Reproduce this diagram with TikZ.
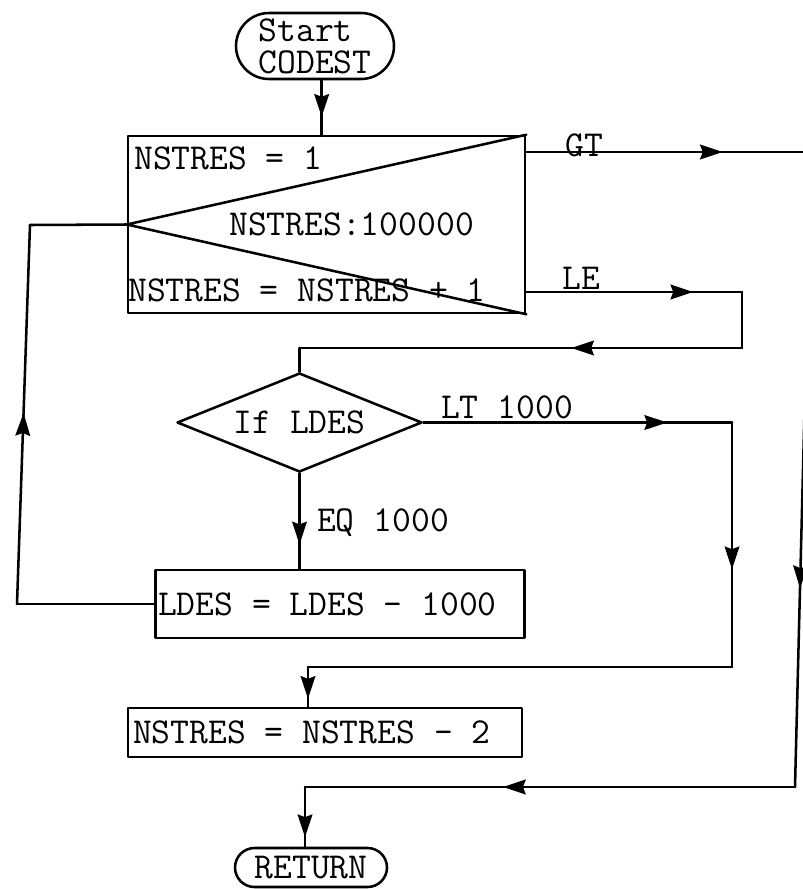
\documentclass[tikz,border=0pt]{standalone}
\usetikzlibrary{shapes.misc,shapes.geometric,decorations.markings,arrows.meta}
\begin{document}
\begin{tikzpicture}[x=0.75pt,y=-0.75pt, line width=1.9pt, line cap=round, line join=round,
  txt/.style={font=\ttfamily\fontsize{27.4pt}{24pt}\selectfont, inner sep=0pt},
  term/.style={txt, draw, rounded rectangle, align=left},
  procbox/.style={txt, draw, rectangle},
  arr/.style={postaction={decorate},decoration={markings,mark=at position #1 with {\arrow{Stealth[length=17pt,width=11pt,inset=2pt]}}}}]
\useasboundingbox (0,0) rectangle (803,889);

% nodes
\node[term, minimum width=118.5pt, minimum height=49.5pt] (start) at (315,46) {Start\\CODEST};
\node[draw, minimum width=297.75pt, minimum height=132.75pt, inner sep=0pt] (loop) at (326.5,224.5) {};
\draw (loop.north east) -- (loop.west) -- (loop.south east);
\node[txt, anchor=west] (t1) at (133,158) {NSTRES = 1};
\node[txt, anchor=west] (t2) at (228,224) {NSTRES:100000};
\node[txt, anchor=west] (t3) at (127,290) {NSTRES = NSTRES + 1};

\node[txt, draw, diamond, aspect=2.47, minimum width=183.75pt, minimum height=74.25pt] (dec) at (299.5,422.5) {If LDES};

\node[procbox, inner xsep=2pt, minimum height=51pt] (ldes) at (340,604) {\makebox[273pt][l]{LDES = LDES - 1000}};
\node[procbox, inner xsep=3.75pt, minimum height=36.75pt] (n2) at (325,732.5) {\makebox[288pt][l]{NSTRES = NSTRES - 2}};
\node[term, minimum width=114pt, minimum height=29.25pt] (ret) at (311,867.5) {RETURN};

% labels
\node[txt] (gt) at (584,145) {GT};
\node[txt] (le) at (581,278) {LE};
\node[txt] (lt) at (507,407) {LT 1000};
\node[txt] (eq) at (383,523) {EQ 1000};

% helper coordinates
\coordinate (s0) at ([xshift=5pt]start.south);
\path (0,152) coordinate (yGT) (0,292) coordinate (yLE) (732,0) coordinate (xLT);
\coordinate (gtL) at (loop.east |- yGT);
\coordinate (gtR) at (811,152);
\coordinate (botR) at (795,787);
\coordinate (retJ) at (305,787);
\coordinate (leL) at (loop.east |- yLE);
\coordinate (leR) at (742,292);
\coordinate (leB) at (742,348);
\coordinate (leJ) at (dec.north |- leB);
\coordinate (ltR) at (dec.east -| xLT);
\coordinate (ltB) at (732,667);
\coordinate (ltJ) at (308,667);
\coordinate (lpB) at (17,604);
\coordinate (lpT) at (30,225);

% connectors
\draw[arr=0.67] (s0) -- (s0 |- loop.north);
\draw[arr=0.69] (gtL) -- (gtR);
\draw[arr=0.687] (gtR) -- (botR);
\draw[arr=0.596] (botR) -- (retJ);
\draw[arr=0.84] (retJ) -- (retJ |- ret.north);
\draw[arr=0.774] (leL) -- (leR);
\draw (leR) -- (leB);
\draw[arr=0.386] (leB) -- (leJ);
\draw (leJ) -- (dec.north);
\draw[arr=0.79] (dec.east) -- (ltR);
\draw[arr=0.60] (ltR) -- (ltB);
\draw (ltB) -- (ltJ);
\draw[arr=0.8] (ltJ) -- (ltJ |- n2.north);
\draw[arr=0.745] (dec.south) -- (dec.south |- ldes.north);
\draw (ldes.west) -- (lpB);
\draw[arr=0.504] (lpB) -- (lpT);
\draw (lpT) -- (loop.west);
\end{tikzpicture}
\end{document}
